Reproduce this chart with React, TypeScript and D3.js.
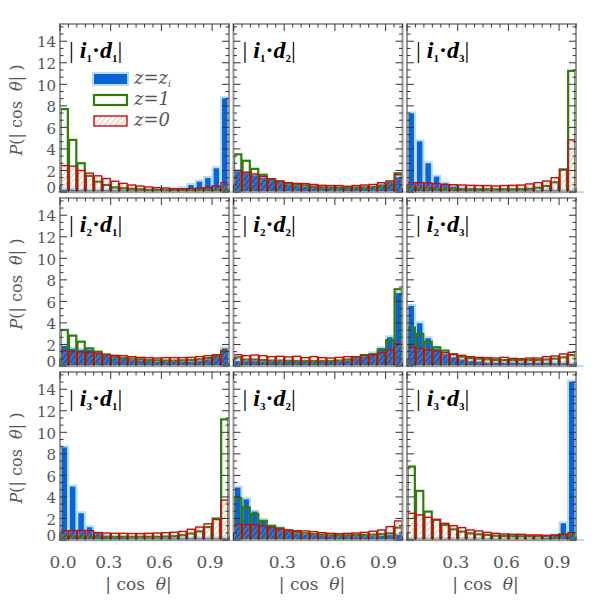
import React, { useEffect, useRef } from 'react';
import * as d3 from 'd3';

// 20 bins of |cos theta|, width 0.05
const binStarts = d3.range(20).map(i => i * 0.05);
const yTicks = [0, 2, 4, 6, 8, 10, 12, 14];
const xTicks = [0.0, 0.3, 0.6, 0.9];

const panelLabels = [
  ['1', '1'], ['1', '2'], ['1', '3'],
  ['2', '1'], ['2', '2'], ['2', '3'],
  ['3', '1'], ['3', '2'], ['3', '3'],
];

// z = z_i (blue filled)
const i1d1Zi = [0.2, 0.2, 0.15, 0.15, 0.15, 0.15, 0.15, 0.15, 0.15, 0.15, 0.15, 0.15, 0.2, 0.25, 0.35, 0.65, 0.96, 1.3, 2.2, 8.7];
const i1d2Zi = [1.9, 1.75, 1.55, 1.3, 1.1, 0.9, 0.7, 0.6, 0.5, 0.45, 0.4, 0.4, 0.4, 0.4, 0.4, 0.45, 0.55, 0.7, 0.95, 1.36];
const i1d3Zi = [7.3, 4.7, 2.67, 1.43, 0.8, 0.5, 0.35, 0.25, 0.2, 0.15, 0.15, 0.15, 0.15, 0.15, 0.15, 0.15, 0.15, 0.15, 0.1, 0.1];
const i2d1Zi = [1.86, 1.6, 1.5, 1.5, 1.2, 1.0, 0.8, 0.7, 0.55, 0.5, 0.45, 0.4, 0.4, 0.4, 0.4, 0.4, 0.45, 0.6, 0.85, 1.64];
const i2d2Zi = [0.45, 0.45, 0.45, 0.42, 0.4, 0.4, 0.4, 0.4, 0.4, 0.4, 0.4, 0.4, 0.42, 0.5, 0.7, 0.87, 1.18, 1.64, 2.67, 6.76];
const i2d3Zi = [5.58, 3.97, 2.57, 1.6, 1.1, 0.8, 0.6, 0.45, 0.4, 0.3, 0.3, 0.3, 0.3, 0.3, 0.3, 0.3, 0.3, 0.25, 0.25, 0.2];
const i3d1Zi = [8.6, 4.96, 2.48, 1.18, 0.62, 0.35, 0.2, 0.2, 0.15, 0.15, 0.15, 0.15, 0.15, 0.15, 0.15, 0.15, 0.15, 0.15, 0.15, 0.15];
const i3d2Zi = [4.87, 3.78, 2.64, 1.86, 1.33, 1.09, 0.87, 0.62, 0.5, 0.45, 0.4, 0.35, 0.35, 0.35, 0.35, 0.35, 0.35, 0.4, 0.45, 0.5];
const i3d3Zi = [0.1, 0.1, 0.1, 0.1, 0.1, 0.1, 0.1, 0.1, 0.1, 0.1, 0.1, 0.1, 0.1, 0.1, 0.1, 0.12, 0.2, 0.4, 1.55, 14.7];

// z = 1 (green open)
const i1d1Z1 = [7.7, 4.84, 2.67, 1.5, 0.96, 0.65, 0.43, 0.35, 0.3, 0.25, 0.2, 0.18, 0.15, 0.15, 0.15, 0.15, 0.15, 0.15, 0.15, 0.2];
const i1d2Z1 = [3.5, 2.9, 2.15, 1.6, 1.2, 0.96, 0.8, 0.7, 0.62, 0.5, 0.43, 0.4, 0.4, 0.4, 0.4, 0.42, 0.45, 0.55, 0.7, 1.74];
const i1d3Z1 = [0.45, 0.4, 0.35, 0.3, 0.3, 0.25, 0.25, 0.25, 0.25, 0.25, 0.25, 0.25, 0.25, 0.27, 0.3, 0.4, 0.55, 0.9, 2.1, 11.25];
const i2d1Z1 = [3.35, 2.82, 2.26, 1.64, 1.33, 1.02, 0.87, 0.74, 0.68, 0.62, 0.56, 0.53, 0.5, 0.5, 0.53, 0.56, 0.62, 0.74, 0.93, 1.4];
const i2d2Z1 = [0.8, 0.6, 0.6, 0.55, 0.5, 0.5, 0.48, 0.45, 0.45, 0.45, 0.45, 0.45, 0.5, 0.6, 0.8, 1.02, 1.08, 1.55, 2.4, 7.13];
const i2d3Z1 = [3.57, 2.98, 2.26, 1.74, 1.43, 1.09, 0.87, 0.74, 0.68, 0.62, 0.56, 0.55, 0.55, 0.55, 0.55, 0.56, 0.6, 0.68, 0.8, 1.02];
const i3d1Z1 = [0.35, 0.32, 0.3, 0.3, 0.3, 0.3, 0.3, 0.3, 0.3, 0.3, 0.3, 0.3, 0.32, 0.35, 0.45, 0.6, 0.8, 1.2, 2.0, 11.2];
const i3d2Z1 = [3.88, 3.04, 2.42, 1.77, 1.3, 1.09, 0.87, 0.74, 0.62, 0.56, 0.5, 0.43, 0.43, 0.43, 0.46, 0.46, 0.5, 0.56, 0.62, 1.15];
const i3d3Z1 = [6.82, 4.56, 2.64, 1.86, 1.4, 0.99, 0.78, 0.62, 0.53, 0.47, 0.4, 0.37, 0.35, 0.35, 0.35, 0.35, 0.37, 0.4, 0.45, 0.5];

// z = 0 (red hatched)
const i1d1Z0 = [2.45, 2.4, 2.0, 1.75, 1.5, 1.25, 1.0, 0.8, 0.65, 0.55, 0.47, 0.4, 0.37, 0.3, 0.3, 0.33, 0.37, 0.43, 0.55, 0.87];
const i1d2Z0 = [2.0, 1.83, 1.67, 1.43, 1.2, 1.02, 0.87, 0.8, 0.78, 0.7, 0.62, 0.6, 0.6, 0.53, 0.6, 0.65, 0.7, 0.87, 1.02, 1.6];
const i1d3Z0 = [0.87, 0.87, 0.84, 0.78, 0.7, 0.68, 0.65, 0.62, 0.6, 0.6, 0.56, 0.6, 0.62, 0.65, 0.75, 0.87, 1.02, 1.33, 2.05, 4.84];
const i2d1Z0 = [1.4, 1.33, 1.3, 1.27, 1.18, 1.09, 0.99, 0.96, 0.87, 0.8, 0.78, 0.74, 0.78, 0.78, 0.78, 0.8, 0.87, 0.96, 1.05, 1.36];
const i2d2Z0 = [1.05, 0.96, 1.02, 0.96, 0.87, 0.9, 0.84, 0.9, 0.78, 0.87, 0.78, 0.74, 0.8, 0.87, 0.87, 0.96, 1.05, 1.24, 1.49, 2.05];
const i2d3Z0 = [1.74, 1.64, 1.49, 1.36, 1.24, 1.09, 0.99, 0.87, 0.8, 0.78, 0.74, 0.8, 0.71, 0.68, 0.74, 0.74, 0.87, 0.93, 1.12, 1.27];
const i3d1Z0 = [0.87, 0.87, 0.9, 0.87, 0.68, 0.65, 0.62, 0.62, 0.6, 0.6, 0.62, 0.65, 0.68, 0.72, 0.8, 1.0, 1.2, 1.5, 1.9, 3.7];
const i3d2Z0 = [1.46, 1.43, 1.4, 1.3, 1.15, 1.02, 0.93, 0.87, 0.84, 0.78, 0.68, 0.62, 0.59, 0.62, 0.65, 0.71, 0.81, 0.93, 1.24, 1.77];
const i3d3Z0 = [2.48, 2.33, 2.11, 1.92, 1.55, 1.33, 1.15, 0.93, 0.84, 0.71, 0.62, 0.56, 0.53, 0.53, 0.47, 0.47, 0.43, 0.47, 0.53, 0.68];

const seriesZi = [i1d1Zi, i1d2Zi, i1d3Zi, i2d1Zi, i2d2Zi, i2d3Zi, i3d1Zi, i3d2Zi, i3d3Zi];
const seriesZ1 = [i1d1Z1, i1d2Z1, i1d3Z1, i2d1Z1, i2d2Z1, i2d3Z1, i3d1Z1, i3d2Z1, i3d3Z1];
const seriesZ0 = [i1d1Z0, i1d2Z0, i1d3Z0, i2d1Z0, i2d2Z0, i2d3Z0, i3d1Z0, i3d2Z0, i3d3Z0];

const BLUE = '#0a64d8';
const LIGHTBLUE = '#b4def8';
const GREEN = '#2e7d0c';
const RED = '#c40f0f';
const HATCH = '#f27a68';
const FONT = "'DejaVu Serif', 'Liberation Serif', serif";
const LABELFONT = "'Liberation Serif', 'DejaVu Serif', serif";

function App() {
  const svgRef = useRef(null);

  useEffect(() => {
    if (!svgRef.current) return;
    document.body.style.margin = '0';
    const width = 600;
    const height = 600;

    const colX = [60, 233.5, 407];
    const rowY = [24, 198, 372];
    const pw = 169;
    const ph = 168;

    d3.select(svgRef.current).selectAll('*').remove();
    const svg = d3.select(svgRef.current)
      .attr('width', width)
      .attr('height', height)
      .attr('viewBox', `0 0 ${width} ${height}`)
      .style('display', 'block')
      .style('background', '#fff');

    const defs = svg.append('defs');
    const pat = defs.append('pattern')
      .attr('id', 'hatch')
      .attr('patternUnits', 'userSpaceOnUse')
      .attr('width', 4)
      .attr('height', 4)
      .attr('patternTransform', 'rotate(40)');
    pat.append('line')
      .attr('x1', 0).attr('y1', 0).attr('x2', 0).attr('y2', 4)
      .attr('stroke', HATCH)
      .attr('stroke-width', 1);

    panelLabels.forEach((lab, k) => {
      const row = Math.floor(k / 3);
      const col = k % 3;
      const x0 = colX[col];
      const y0 = rowY[row];
      const x = d3.scaleLinear().domain([0, 1]).range([x0, x0 + pw]);
      const y = d3.scaleLinear().domain([0, 15.6]).range([y0 + ph, y0]);
      const g = svg.append('g');
      const bw = x(0.05) - x(0);

      // blue z=z_i: light blue halo, then fill
      const zi = seriesZi[k];
      g.append('line')
        .attr('x1', x0 - 2).attr('x2', x0 + pw + 8)
        .attr('y1', y(0)).attr('y2', y(0))
        .attr('stroke', LIGHTBLUE).attr('stroke-width', 2);
      g.selectAll('rect.halo').data(zi).join('rect')
        .attr('class', 'halo')
        .attr('x', (d, i) => x(binStarts[i]) - 0.5)
        .attr('width', bw + 1)
        .attr('y', d => y(d) - 2)
        .attr('height', d => y(0) - y(d) + 2)
        .attr('fill', LIGHTBLUE);
      g.selectAll('rect.blue').data(zi).join('rect')
        .attr('class', 'blue')
        .attr('x', (d, i) => x(binStarts[i]) + 1.5)
        .attr('width', bw - 3)
        .attr('y', d => y(d))
        .attr('height', d => y(0) - y(d))
        .attr('fill', BLUE);

      // green z=1 boxes
      const z1 = seriesZ1[k];
      g.selectAll('rect.green').data(z1).join('rect')
        .attr('class', 'green')
        .attr('x', (d, i) => x(binStarts[i]) + 0.6)
        .attr('width', bw - 1.2)
        .attr('y', d => y(d))
        .attr('height', d => y(0) - y(d))
        .attr('fill', 'none')
        .attr('stroke', GREEN)
        .attr('stroke-width', 2.2);

      // red z=0 hatched boxes
      const z0 = seriesZ0[k];
      g.selectAll('rect.red').data(z0).join('rect')
        .attr('class', 'red')
        .attr('x', (d, i) => x(binStarts[i]) + 0.5)
        .attr('width', bw - 1)
        .attr('y', d => y(d))
        .attr('height', d => y(0) - y(d))
        .attr('fill', 'url(#hatch)')
        .attr('stroke', RED)
        .attr('stroke-width', 1.4);

      // frame
      g.append('rect')
        .attr('x', x0).attr('y', y0).attr('width', pw).attr('height', ph)
        .attr('fill', 'none').attr('stroke', '#999').attr('stroke-width', 2);

      // ticks
      const tk = g.append('g').attr('stroke', '#333').attr('stroke-width', 1);
      d3.range(0, 1.0001, 0.05).forEach((v, i) => {
        const len = i % 6 === 0 ? 7 : 3.5;
        tk.append('line').attr('x1', x(v)).attr('x2', x(v)).attr('y1', y0 + ph).attr('y2', y0 + ph - len);
        tk.append('line').attr('x1', x(v)).attr('x2', x(v)).attr('y1', y0).attr('y2', y0 + len);
      });
      d3.range(0, 15.6, 2 / 3).forEach((v, i) => {
        const len = i % 3 === 0 ? 7 : 3.5;
        tk.append('line').attr('y1', y(v)).attr('y2', y(v)).attr('x1', x0).attr('x2', x0 + len);
        tk.append('line').attr('y1', y(v)).attr('y2', y(v)).attr('x1', x0 + pw).attr('x2', x0 + pw - len);
      });

      // y tick labels
      if (col === 0) {
        yTicks.forEach(v => {
          g.append('text')
            .attr('x', x0 - 4)
            .attr('y', v === 0 ? y0 + ph - 4 : y(v) + 1)
            .attr('dy', '0.35em')
            .attr('text-anchor', 'end')
            .attr('font-family', FONT)
            .attr('font-size', 15)
            .attr('fill', '#555')
            .text(v);
        });
        const yl = g.append('text')
          .attr('transform', `translate(22,${y0 + ph / 2 + 2}) rotate(-90)`)
          .attr('text-anchor', 'middle')
          .attr('font-family', FONT)
          .attr('font-size', 16)
          .attr('fill', '#555')
          .attr('xml:space', 'preserve');
        yl.append('tspan').attr('font-style', 'italic').text('P');
        yl.append('tspan').text('(| cos  ');
        yl.append('tspan').attr('font-style', 'italic').text('θ');
        yl.append('tspan').text('| )');
      }

      // x tick labels
      if (row === 2) {
        xTicks.forEach(v => {
          if (v === 0 && col !== 0) return;
          g.append('text')
            .attr('x', v === 0 ? x(v) + 3 : x(v) - 2)
            .attr('y', 568)
            .attr('text-anchor', 'middle')
            .attr('font-family', FONT)
            .attr('font-size', 17)
            .attr('fill', '#555')
            .text(v.toFixed(1));
        });
        const xl = g.append('text')
          .attr('x', x0 + pw / 2 - 6)
          .attr('y', 590)
          .attr('text-anchor', 'middle')
          .attr('font-family', FONT)
          .attr('font-size', 17)
          .attr('fill', '#555')
          .attr('xml:space', 'preserve');
        xl.append('tspan').text('| cos  ');
        xl.append('tspan').attr('font-style', 'italic').text('θ');
        xl.append('tspan').text('|');
      }

      // panel label |i_a . d_b|
      const pl = g.append('text')
        .attr('x', x0 + 9)
        .attr('y', y0 + 34)
        .attr('font-family', LABELFONT)
        .attr('font-size', 24)
        .attr('fill', '#000')
        .attr('xml:space', 'preserve');
      pl.append('tspan').text('| ');
      pl.append('tspan').attr('font-style', 'italic').attr('font-weight', 'bold').text('i');
      pl.append('tspan').attr('font-size', 11).attr('font-weight', 'bold').attr('dy', 4).text(lab[0]);
      pl.append('tspan').attr('dy', -4).attr('font-weight', 'bold').text('·');
      pl.append('tspan').attr('font-style', 'italic').attr('font-weight', 'bold').text('d');
      pl.append('tspan').attr('font-size', 11).attr('font-weight', 'bold').attr('dy', 4).text(lab[1]);
      pl.append('tspan').attr('dy', -4).text('|');

      // legend in first panel
      if (k === 0) {
        const lx = 94;
        const lw = 33;
        const items = [
          { yy: 74, type: 'zi' },
          { yy: 95, type: 'z1' },
          { yy: 116, type: 'z0' },
        ];
        items.forEach(it => {
          if (it.type === 'zi') {
            g.append('rect').attr('x', lx - 2).attr('y', it.yy - 2).attr('width', lw + 4).attr('height', 14).attr('fill', LIGHTBLUE);
            g.append('rect').attr('x', lx).attr('y', it.yy).attr('width', lw).attr('height', 10).attr('fill', BLUE);
          } else if (it.type === 'z1') {
            g.append('rect').attr('x', lx).attr('y', it.yy).attr('width', lw).attr('height', 10)
              .attr('fill', 'none').attr('stroke', GREEN).attr('stroke-width', 2.2);
          } else {
            g.append('rect').attr('x', lx).attr('y', it.yy).attr('width', lw).attr('height', 10)
              .attr('fill', 'url(#hatch)').attr('stroke', RED).attr('stroke-width', 1.4);
          }
          const t = g.append('text')
            .attr('x', lx + lw + 7)
            .attr('y', it.yy + 10)
            .attr('font-family', FONT)
            .attr('font-size', 18)
            .attr('font-style', 'italic')
            .attr('fill', '#555');
          if (it.type === 'zi') {
            t.append('tspan').text('z=z');
            t.append('tspan').attr('font-size', 9).attr('dy', 3).text('i');
          } else {
            t.text(it.type === 'z1' ? 'z=1' : 'z=0');
          }
        });
      }
    });
  }, []);

  return (
    <div>
      <svg ref={svgRef}></svg>
    </div>
  );
}

export default App;
